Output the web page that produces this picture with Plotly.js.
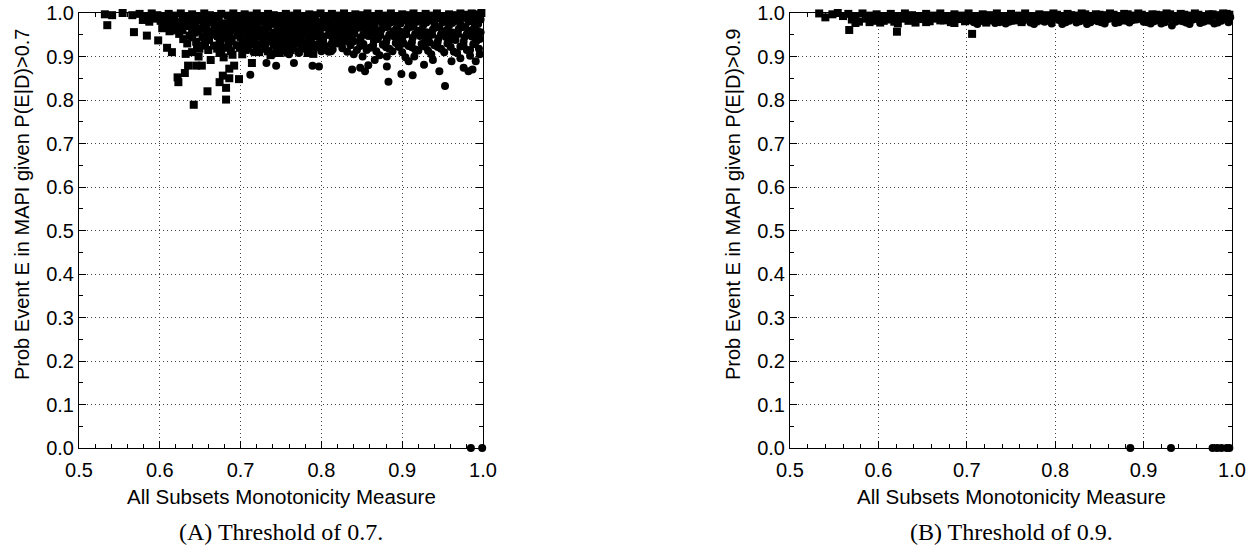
<!DOCTYPE html>
<html><head><meta charset="utf-8">
<script src="https://cdn.plot.ly/plotly-3.0.1.min.js"></script>
<style>html,body{margin:0;padding:0;background:#fff}#chart{width:1257px;height:550px}</style>
</head><body><div id="chart"></div>
<script>
// Panel A (threshold 0.7): square-marker points [x, y]
const panelA_squares = [
[0.532,0.997],[0.541,0.995],[0.535,0.972],[0.554,1.0],[0.566,0.995],[0.568,0.956],[0.584,0.948],[0.598,0.937],[0.609,0.920],[0.615,0.910],[0.632,0.906],[0.635,0.879],[0.631,0.862],[0.622,0.852],[0.623,0.841],[0.642,0.789],[0.659,0.820],[0.674,0.841],[0.682,0.828],[0.682,0.801],[0.686,0.850],[0.678,0.856],[0.686,0.872],[0.698,0.848],[0.692,0.879],[0.645,0.879],[0.652,0.879],[0.648,0.900],[0.640,0.910],[0.663,0.892],[0.679,0.898],[0.656,0.933],[0.649,0.918],[0.714,0.885],
[0.575,0.998],[0.582,0.993],[0.590,0.999],[0.597,0.995],[0.604,0.991],[0.611,0.998],[0.618,0.994],[0.626,0.999],[0.633,0.992],[0.640,0.997],[0.647,0.993],[0.655,0.999],[0.662,0.995],[0.669,0.991],[0.676,0.998],[0.684,0.994],[0.691,0.999],[0.698,0.992],[0.705,0.997],[0.712,0.994],[0.720,0.999],[0.727,0.993],[0.734,0.998],[0.741,0.995],[0.748,0.991],[0.756,0.998],[0.763,0.994],[0.770,0.999],[0.777,0.993],[0.785,0.997],[0.792,0.995],[0.799,0.999],[0.806,0.992],[0.813,0.998],[0.821,0.994],[0.828,0.999],[0.835,0.993],[0.842,0.997],[0.850,0.995],[0.857,0.999],[0.864,0.992],[0.871,0.998],[0.878,0.994],[0.886,0.999],[0.893,0.993],[0.900,0.997],[0.907,0.995],[0.914,0.999],[0.922,0.992],[0.929,0.998],[0.936,0.994],[0.943,0.999],[0.950,0.993],[0.958,0.997],[0.965,0.995],[0.972,0.999],[0.979,0.996],[0.986,0.999],[0.993,0.997],[0.998,1.0],
[0.586,0.989],[0.600,0.990],[0.614,0.989],[0.629,0.991],[0.643,0.988],[0.657,0.990],[0.672,0.989],[0.687,0.991],[0.701,0.988],[0.716,0.990],[0.730,0.989],[0.745,0.991],[0.759,0.988],[0.774,0.990],[0.788,0.989],[0.803,0.991],[0.817,0.989],[0.832,0.990],[0.846,0.989],[0.861,0.991],[0.876,0.993],[0.891,0.992],[0.905,0.993],[0.920,0.991],[0.934,0.993],[0.948,0.992],[0.962,0.993],[0.976,0.992],[0.990,0.993],
[0.579,0.984],[0.587,0.980],[0.594,0.987],[0.601,0.982],[0.608,0.976],[0.615,0.985],[0.622,0.979],[0.629,0.986],[0.637,0.981],[0.644,0.975],[0.651,0.984],[0.658,0.979],[0.666,0.987],[0.673,0.981],[0.680,0.976],[0.688,0.985],[0.695,0.980],[0.702,0.987],[0.709,0.982],[0.716,0.977],[0.724,0.986],[0.731,0.980],[0.738,0.984],[0.745,0.978],[0.753,0.987],[0.760,0.981],[0.767,0.985],[0.774,0.979],[0.782,0.986],[0.789,0.982],[0.796,0.977],[0.803,0.986],[0.811,0.981],[0.818,0.987],[0.825,0.983],[0.833,0.978],[0.840,0.986],[0.848,0.982],[0.855,0.987],[0.863,0.984],[0.872,0.988],[0.880,0.985],[0.889,0.988],[0.897,0.984],[0.906,0.988],[0.915,0.985],[0.924,0.989],[0.933,0.986],[0.942,0.989],[0.951,0.987],[0.960,0.989],[0.969,0.987],[0.978,0.990],[0.988,0.988],[0.996,0.991],
[0.606,0.982],[0.620,0.960],[0.634,0.975],[0.648,0.958],[0.662,0.978],[0.676,0.962],[0.690,0.972],[0.704,0.962],[0.718,0.981],[0.732,0.968],[0.746,0.972],[0.760,0.964],[0.774,0.970],[0.788,0.962],[0.802,0.979],[0.816,0.968],[0.830,0.962],[0.844,0.975],[0.858,0.981],
[0.612,0.973],[0.626,0.975],[0.640,0.963],[0.654,0.976],[0.668,0.972],[0.682,0.962],[0.696,0.974],[0.710,0.972],[0.724,0.962],[0.738,0.975],[0.752,0.977],[0.766,0.973],[0.780,0.977],[0.794,0.972],[0.808,0.976],[0.822,0.977],[0.836,0.974],[0.850,0.978],
[0.603,0.965],[0.612,0.958],[0.620,0.968],[0.628,0.960],[0.636,0.970],[0.643,0.955],[0.650,0.964],[0.657,0.971],[0.664,0.958],[0.671,0.966],[0.678,0.955],[0.685,0.969],[0.692,0.960],[0.699,0.967],[0.706,0.956],[0.713,0.964],[0.720,0.971],[0.727,0.959],[0.734,0.966],[0.741,0.955],[0.748,0.963],[0.755,0.970],[0.762,0.958],[0.769,0.966],[0.776,0.956],[0.783,0.964],[0.790,0.970],[0.797,0.960],[0.804,0.967],[0.812,0.958],[0.820,0.965],[0.828,0.971],[0.837,0.962],[0.846,0.968],[0.855,0.975],[0.866,0.970],
[0.624,0.952],[0.640,0.944],[0.658,0.955],[0.672,0.947],[0.686,0.953],[0.700,0.945],[0.714,0.954],[0.728,0.942],[0.742,0.948],[0.756,0.944],[0.770,0.953],[0.784,0.942],[0.798,0.953],[0.816,0.957],[0.830,0.952],
[0.634,0.930],[0.646,0.925],[0.660,0.946],[0.674,0.937],[0.688,0.940],[0.702,0.952],[0.716,0.946],[0.730,0.950],[0.744,0.942],[0.758,0.952],[0.772,0.945],[0.786,0.955],[0.800,0.946],[0.814,0.944],[0.826,0.960],
[0.629,0.940],[0.637,0.948],[0.645,0.934],[0.653,0.945],[0.661,0.938],[0.668,0.950],[0.675,0.931],[0.682,0.943],[0.689,0.936],[0.696,0.949],[0.703,0.932],[0.710,0.944],[0.717,0.937],[0.724,0.950],[0.731,0.933],[0.738,0.945],[0.745,0.939],[0.752,0.951],[0.759,0.934],[0.766,0.946],[0.773,0.940],[0.780,0.950],[0.787,0.935],[0.794,0.947],[0.802,0.941],[0.810,0.950],
[0.653,0.925],[0.671,0.918],[0.685,0.928],[0.699,0.920],[0.713,0.932],[0.727,0.925],[0.741,0.927],[0.755,0.918],[0.769,0.930],[0.783,0.908],[0.800,0.933],
[0.676,0.915],[0.690,0.904],[0.706,0.915],[0.720,0.918],[0.734,0.912],[0.748,0.908],[0.762,0.915],[0.776,0.918],[0.790,0.906],[0.804,0.918],[0.818,0.935],[0.822,0.946],
[0.660,0.915],[0.667,0.925],[0.674,0.908],[0.681,0.920],[0.688,0.912],[0.695,0.926],[0.702,0.905],[0.709,0.918],[0.716,0.928],[0.723,0.910],[0.730,0.921],[0.737,0.903],[0.744,0.915],[0.751,0.926],[0.758,0.909],[0.765,0.920],[0.772,0.912],[0.779,0.924],[0.787,0.916],[0.795,0.926]
];
// Panel A: circle-marker points [x, y]
const panelA_circles = [
[0.712,0.858],[0.732,0.885],[0.744,0.879],[0.766,0.885],[0.789,0.879],[0.797,0.877],[0.812,0.912],[0.838,0.870],[0.848,0.874],[0.854,0.866],[0.858,0.880],[0.881,0.877],[0.883,0.842],[0.899,0.860],[0.913,0.857],[0.953,0.832],[0.927,0.881],[0.946,0.866],[0.976,0.874],[0.982,0.866],[0.987,0.870],[0.991,0.889],[0.997,0.956],[0.991,0.934],[0.972,0.896],[0.961,0.889],[0.938,0.892],[0.915,0.900],[0.908,0.889],[0.881,0.900],[0.866,0.892],[0.851,0.900],[0.832,0.911],[0.826,0.919],[0.814,0.916],[0.809,0.911],
[0.706,0.991],[0.722,0.990],[0.738,0.978],[0.754,0.988],[0.770,0.976],[0.786,0.989],[0.802,0.977],[0.818,0.990],[0.834,0.978],[0.850,0.988],[0.866,0.977],[0.882,0.989],[0.898,0.976],[0.914,0.990],[0.930,0.978],[0.946,0.988],[0.962,0.977],[0.978,0.989],[0.994,0.975],
[0.826,0.983],[0.842,0.982],[0.858,0.983],[0.874,0.982],[0.890,0.983],[0.906,0.982],[0.922,0.984],[0.938,0.982],[0.954,0.983],[0.970,0.981],[0.986,0.983],
[0.702,0.975],[0.710,0.985],[0.718,0.968],[0.726,0.980],[0.734,0.972],[0.742,0.987],[0.750,0.966],[0.758,0.978],[0.766,0.970],[0.774,0.984],[0.782,0.967],[0.790,0.979],[0.798,0.971],[0.806,0.985],[0.814,0.968],[0.822,0.980],[0.830,0.972],[0.838,0.986],[0.846,0.966],[0.854,0.978],[0.862,0.970],[0.870,0.984],[0.878,0.967],[0.886,0.979],[0.894,0.971],[0.902,0.985],[0.910,0.968],[0.918,0.980],[0.926,0.972],[0.934,0.986],[0.942,0.967],[0.950,0.979],[0.958,0.971],[0.966,0.984],[0.974,0.968],[0.982,0.980],[0.990,0.973],[0.997,0.985],
[0.716,0.975],[0.732,0.966],[0.748,0.976],[0.764,0.961],[0.780,0.975],[0.796,0.962],[0.812,0.975],[0.828,0.962],[0.844,0.975],[0.860,0.961],[0.876,0.974],[0.892,0.962],[0.908,0.975],[0.924,0.961],[0.940,0.974],[0.956,0.962],[0.972,0.975],[0.988,0.962],
[0.824,0.968],[0.836,0.957],[0.852,0.969],[0.866,0.955],[0.882,0.968],[0.898,0.957],[0.914,0.969],[0.930,0.956],[0.946,0.968],[0.962,0.955],[0.978,0.968],[0.994,0.957],
[0.714,0.962],[0.730,0.956],[0.746,0.965],[0.762,0.948],[0.778,0.963],[0.794,0.946],[0.810,0.962],[0.826,0.945],[0.842,0.964],[0.858,0.947],[0.874,0.961],[0.890,0.946],[0.906,0.963],[0.922,0.947],[0.938,0.962],[0.954,0.945],[0.970,0.963],[0.986,0.946],
[0.820,0.950],[0.836,0.946],[0.852,0.952],[0.868,0.944],[0.884,0.950],[0.900,0.940],[0.916,0.952],[0.932,0.943],[0.948,0.951],[0.964,0.945],[0.980,0.952],[0.996,0.940],
[0.705,0.950],[0.713,0.940],[0.721,0.957],[0.729,0.944],[0.737,0.936],[0.745,0.953],[0.753,0.942],[0.761,0.960],[0.769,0.938],[0.777,0.951],[0.785,0.943],[0.793,0.958],[0.801,0.937],[0.809,0.950],[0.817,0.941],[0.825,0.956],[0.833,0.939],[0.841,0.952],[0.849,0.944],[0.857,0.960],[0.865,0.936],[0.873,0.949],[0.881,0.941],[0.889,0.957],[0.897,0.938],[0.905,0.951],[0.913,0.943],[0.921,0.959],[0.929,0.937],[0.937,0.950],[0.945,0.942],[0.953,0.958],[0.961,0.939],[0.969,0.952],[0.977,0.944],[0.985,0.960],[0.993,0.948],
[0.720,0.945],[0.736,0.948],[0.752,0.932],[0.768,0.944],[0.784,0.930],[0.800,0.944],[0.816,0.932],[0.832,0.947],[0.848,0.924],[0.864,0.944],[0.880,0.921],[0.896,0.948],[0.912,0.921],[0.928,0.946],[0.944,0.922],[0.960,0.948],[0.976,0.924],[0.992,0.950],
[0.840,0.935],[0.870,0.940],[0.902,0.930],[0.934,0.932],[0.966,0.938],
[0.712,0.930],[0.728,0.935],[0.744,0.930],[0.760,0.922],[0.776,0.934],[0.792,0.920],[0.812,0.928],[0.828,0.934],[0.848,0.935],[0.864,0.926],[0.880,0.933],[0.896,0.922],[0.912,0.933],[0.928,0.923],[0.944,0.934],[0.960,0.922],[0.976,0.934],[0.992,0.936],
[0.708,0.920],[0.716,0.910],[0.724,0.928],[0.732,0.915],[0.740,0.906],[0.748,0.924],[0.756,0.912],[0.764,0.930],[0.772,0.908],[0.780,0.922],[0.788,0.914],[0.796,0.929],[0.804,0.925],[0.820,0.930],[0.836,0.926],[0.844,0.915],[0.852,0.929],[0.860,0.920],[0.868,0.912],[0.876,0.927],[0.884,0.918],[0.892,0.931],[0.900,0.910],[0.908,0.924],[0.916,0.916],[0.924,0.929],[0.932,0.913],[0.940,0.926],[0.948,0.918],[0.956,0.930],[0.964,0.911],[0.972,0.923],[0.980,0.915],[0.988,0.928],[0.995,0.918],
[0.856,0.915],[0.888,0.912],[0.920,0.914],[0.952,0.910],[0.984,0.915],
[0.760,0.905],[0.800,0.912],[0.840,0.905],[0.872,0.903],[0.904,0.898],[0.936,0.905],[0.968,0.908],[0.984,0.902],[0.996,0.905],
[0.985,0.0],[0.999,0.0]
];
// Panel B (threshold 0.9): square-marker points [x, y]
const panelB_squares = [
[0.567,0.961],[0.621,0.957],[0.706,0.952],
[0.533,0.999],[0.540,0.990],[0.548,0.997],[0.554,1.0],[0.560,0.993],
[0.566,0.998],[0.574,0.992],[0.582,0.999],[0.590,0.994],[0.598,0.997],[0.606,0.991],[0.614,0.998],[0.622,0.993],[0.630,0.999],[0.638,0.995],[0.646,0.991],[0.654,0.998],[0.662,0.994],[0.670,0.999],[0.678,0.992],[0.686,0.997],[0.694,0.994],[0.702,0.999],[0.710,0.993],[0.718,0.997],[0.726,0.995],[0.734,0.999],[0.742,0.992],[0.750,0.998],[0.758,0.994],[0.766,0.999],[0.774,0.993],[0.782,0.997],[0.790,0.995],[0.798,0.999],[0.806,0.992],[0.814,0.998],[0.822,0.994],[0.830,0.999],[0.838,0.993],[0.846,0.997],[0.854,0.995],[0.862,0.999],[0.870,0.992],[0.878,0.998],[0.886,0.994],[0.894,0.999],[0.902,0.993],[0.910,0.997],[0.918,0.995],[0.926,0.999],[0.934,0.992],[0.942,0.998],[0.950,0.994],[0.958,0.999],[0.966,0.993],[0.974,0.997],[0.982,0.995],[0.990,0.999],[0.997,0.996],
[0.802,0.996],[0.818,0.995],[0.834,0.997],[0.850,0.996],[0.866,0.996],[0.882,0.997],[0.898,0.996],[0.914,0.996],[0.930,0.997],[0.946,0.996],[0.962,0.996],[0.978,0.997],[0.994,0.998],
[0.570,0.991],[0.586,0.993],[0.602,0.990],[0.618,0.992],[0.634,0.990],[0.650,0.992],[0.666,0.990],[0.682,0.993],[0.698,0.990],[0.714,0.992],[0.730,0.990],[0.746,0.993],[0.762,0.990],[0.778,0.992],[0.794,0.990],[0.810,0.993],[0.826,0.990],[0.842,0.992],[0.858,0.990],[0.874,0.993],[0.890,0.990],[0.906,0.992],[0.922,0.990],[0.938,0.993],[0.954,0.990],[0.970,0.992],[0.986,0.990],
[0.570,0.985],[0.578,0.980],[0.586,0.987],[0.594,0.982],[0.602,0.978],[0.610,0.985],[0.618,0.980],[0.626,0.987],[0.634,0.982],[0.642,0.978],[0.650,0.986],[0.658,0.981],[0.666,0.987],[0.674,0.983],[0.682,0.979],[0.690,0.986],[0.698,0.981],[0.706,0.987],[0.714,0.982],[0.722,0.978],[0.730,0.985],[0.738,0.980],[0.746,0.987],[0.754,0.983],[0.762,0.979],[0.770,0.986],[0.778,0.981],[0.786,0.987],[0.794,0.983],
[0.574,0.977],[0.590,0.979],[0.606,0.982],[0.622,0.976],[0.638,0.986],[0.654,0.979],[0.670,0.983],[0.686,0.977],[0.702,0.983],[0.718,0.986],[0.734,0.979]
];
// Panel B: circle-marker points [x, y]
const panelB_circles = [
[0.704,0.989],[0.720,0.983],[0.736,0.988],[0.752,0.982],[0.768,0.987],[0.784,0.983],[0.800,0.988],[0.816,0.982],[0.832,0.987],[0.848,0.981],[0.864,0.988],[0.880,0.982],[0.896,0.987],[0.912,0.981],[0.928,0.986],[0.944,0.981],[0.960,0.987],[0.976,0.982],[0.992,0.986],
[0.700,0.984],[0.708,0.979],[0.716,0.986],[0.724,0.981],[0.732,0.977],[0.740,0.985],[0.748,0.980],[0.756,0.987],[0.764,0.982],[0.772,0.978],[0.780,0.985],[0.788,0.980],[0.796,0.976],[0.804,0.984],[0.812,0.979],[0.820,0.986],[0.828,0.981],[0.836,0.975],[0.844,0.984],[0.852,0.979],[0.860,0.986],[0.868,0.977],[0.876,0.983],[0.884,0.978],[0.892,0.985],[0.900,0.980],[0.908,0.976],[0.916,0.984],[0.924,0.979],[0.932,0.971],[0.940,0.983],[0.948,0.978],[0.956,0.985],[0.964,0.977],[0.972,0.983],[0.980,0.976],[0.988,0.982],[0.996,0.979],
[0.712,0.975],[0.728,0.984],[0.744,0.976],[0.760,0.984],[0.776,0.975],[0.792,0.985],[0.808,0.975],[0.824,0.978],[0.840,0.979],[0.856,0.976],[0.872,0.979],[0.888,0.984],[0.904,0.979],[0.920,0.976],[0.936,0.980],[0.952,0.975],[0.968,0.980],[0.984,0.978],[0.998,0.990],
[0.885,0.0],[0.931,0.0],[0.978,0.0],[0.983,0.0],[0.988,0.0],[0.994,0.0],[0.997,0.0]
];
const xTickVals = [0.5,0.6,0.7,0.8,0.9,1.0];
const xTickText = ["0.5","0.6","0.7","0.8","0.9","1.0"];
const yTickVals = [0,0.1,0.2,0.3,0.4,0.5,0.6,0.7,0.8,0.9,1.0];
const yTickText = ["0.0","0.1","0.2","0.3","0.4","0.5","0.6","0.7","0.8","0.9","1.0"];
const xTitle = "All Subsets Monotonicity Measure";
const yTitleA = "Prob Event E in MAPI given P(E|D)>0.7";
const yTitleB = "Prob Event E in MAPI given P(E|D)>0.9";
const captionA = "(A) Threshold of 0.7.";
const captionB = "(B) Threshold of 0.9.";

const sans = "Liberation Sans, Arial, sans-serif";
function tr(pts, sym, xa, ya){
  return {type:'scatter', mode:'markers', x:pts.map(p=>p[0]), y:pts.map(p=>p[1]),
    xaxis:xa, yaxis:ya, cliponaxis:false, showlegend:false, hoverinfo:'skip',
    marker:{symbol:sym, size:8, color:'#000', line:{width:0}}};
}
const data = [
  tr(panelA_squares,'square','x','y'), tr(panelA_circles,'circle','x','y'),
  tr(panelB_squares,'square','x2','y2'), tr(panelB_circles,'circle','x2','y2')
];
function xax(dom){return {domain:dom, range:[0.5,1.0], tickvals:xTickVals, ticktext:xTickText,
  ticks:'inside', ticklen:7, tickcolor:'#000', showline:true, linecolor:'#000', linewidth:1, mirror:'ticks',
  showgrid:true, gridcolor:'#444', griddash:'1px,3px', gridwidth:1, zeroline:false, ticklabelstandoff:4,
  tickfont:{family:sans, size:20, color:'#000'},
  minor:{dtick:0.02, tick0:0.5, ticks:'inside', ticklen:4, tickcolor:'#000', showgrid:false}};}
function yax(dom, anchor){return {domain:dom, anchor:anchor, range:[0,1.0], tickvals:yTickVals, ticktext:yTickText,
  ticks:'inside', ticklen:7, tickcolor:'#000', showline:true, linecolor:'#000', linewidth:1, mirror:'ticks',
  showgrid:true, gridcolor:'#444', griddash:'1px,3px', gridwidth:1, zeroline:false,
  tickfont:{family:sans, size:20, color:'#000'},
  minor:{dtick:0.05, tick0:0, ticks:'inside', ticklen:4, tickcolor:'#000', showgrid:false}};}
const yDom = [(550-448)/550, (550-13)/550];
const domA = [79/1257, 483/1257], domB = [790/1257, 1232/1257];
function ann(text, cx, cy, size, family, angle){
  return {text:text, xref:'paper', yref:'paper', x:cx/1257, y:1-cy/550, xanchor:'center', yanchor:'middle',
    textangle:angle||0, showarrow:false, font:{family:family, size:size, color:'#000'}};
}
const layout = {
  width:1257, height:550, margin:{l:0,r:0,t:0,b:0}, paper_bgcolor:'#fff', plot_bgcolor:'#fff',
  xaxis:xax(domA), yaxis:yax(yDom,'x'),
  xaxis2:Object.assign(xax(domB),{anchor:'y2'}), yaxis2:yax(yDom,'x2'),
  annotations:[
    ann(xTitle, 281, 496, 20.5, sans), ann(xTitle, 1011, 496, 20.5, sans),
    ann(yTitleA, 22, 205, 20, sans, -90), ann(yTitleB, 733, 205, 20, sans, -90),
    ann(captionA, 281, 532, 24, 'Liberation Serif, serif'), ann(captionB, 1011, 532, 24, 'Liberation Serif, serif')
  ]
};
Plotly.newPlot('chart', data, layout, {staticPlot:true, displayModeBar:false});
</script></body></html>
